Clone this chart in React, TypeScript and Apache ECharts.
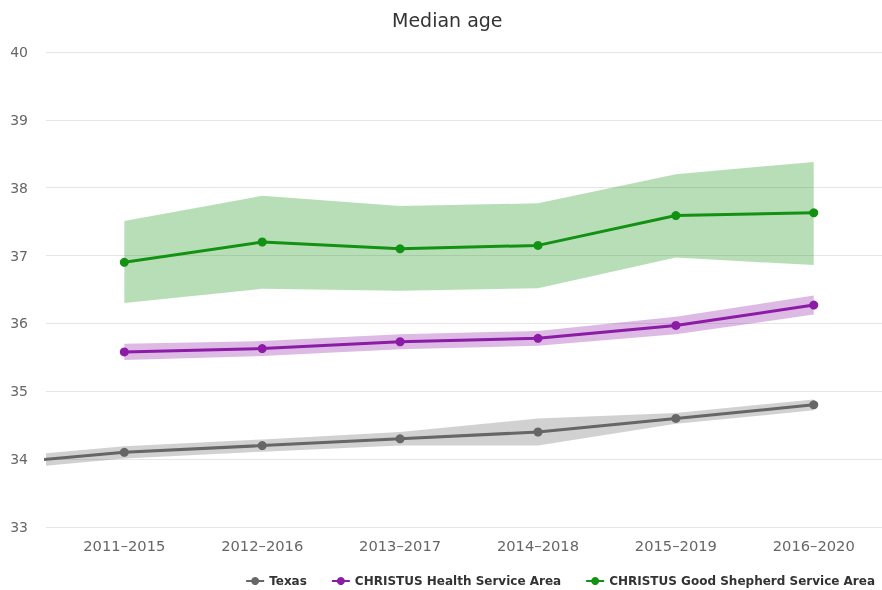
import React, { useEffect, useRef } from "react";
import * as echarts from "echarts";

const categories = ["2011–2015", "2012–2016", "2013–2017", "2014–2018", "2015–2019", "2016–2020"];
const yTicks = [33, 34, 35, 36, 37, 38, 39, 40];

// Texas also has a prior period (2010–2014) that lies just outside the visible range
const texasPrior = { value: 33.92, low: 33.82, high: 34.01 };
const texasValues = [34.1, 34.2, 34.3, 34.4, 34.6, 34.8];
const texasLow = [34.01, 34.11, 34.2, 34.2, 34.52, 34.72];
const texasHigh = [34.19, 34.29, 34.4, 34.6, 34.68, 34.88];

const healthValues = [35.58, 35.63, 35.73, 35.78, 35.97, 36.27];
const healthLow = [35.46, 35.52, 35.62, 35.67, 35.84, 36.13];
const healthHigh = [35.7, 35.74, 35.84, 35.89, 36.1, 36.41];

const shepherdValues = [36.9, 37.2, 37.1, 37.15, 37.59, 37.63];
const shepherdLow = [36.3, 36.51, 36.48, 36.52, 36.97, 36.86];
const shepherdHigh = [37.51, 37.88, 37.73, 37.77, 38.2, 38.38];

const FONT = "DejaVu Sans";

function pts(vals: number[], offset = 0) {
  return vals.map((v, i) => [i + offset, v]);
}

function bandSeries(name: string, low: number[], high: number[], color: string, offset = 0) {
  const data = low.map((l, i) => [i + offset, l, high[i]]);
  return {
    name: name + " band",
    type: "custom",
    clip: true,
    silent: true,
    z: 1,
    encode: { x: 0, y: [1, 2] },
    data,
    renderItem: (params: any, api: any) => {
      if (params.dataIndex !== 0) return null;
      const upper = data.map((d) => api.coord([d[0], d[2]]));
      const lower = data.map((d) => api.coord([d[0], d[1]])).reverse();
      return {
        type: "polygon",
        shape: { points: upper.concat(lower) },
        style: { fill: color, opacity: 0.3 },
      };
    },
  };
}

function mainSeries(name: string, vals: number[], color: string, offset = 0) {
  return {
    name,
    type: "line",
    data: pts(vals, offset),
    symbol: "circle",
    symbolSize: 9,
    itemStyle: { color },
    lineStyle: { color, width: 3 },
    z: 3,
  };
}

export default function App() {
  const ref = useRef<HTMLDivElement>(null);
  useEffect(() => {
    if (!ref.current) return;
    const chart = echarts.init(ref.current, undefined, { renderer: "svg" });
    const texasAllValues = [texasPrior.value, ...texasValues];
    const texasAllLow = [texasPrior.low, ...texasLow];
    const texasAllHigh = [texasPrior.high, ...texasHigh];
    const gray = "#666666";
    const purple = "#8c1ba6";
    const green = "#139113";
    chart.setOption({
      animation: false,
      textStyle: { fontFamily: FONT },
      title: {
        text: "Median age",
        left: 387,
        top: 5,
        textStyle: { fontFamily: FONT, fontSize: 19, fontWeight: "normal", color: "#333333" },
      },
      legend: {
        data: ["Texas", "CHRISTUS Health Service Area", "CHRISTUS Good Shepherd Service Area"],
        right: 2,
        bottom: -2,
        itemWidth: 18,
        itemHeight: 10,
        itemGap: 24,
        textStyle: { fontFamily: FONT, fontSize: 12, fontWeight: "bold", color: "#333333" },
      },
      grid: { left: 46, right: 0, top: 52, bottom: 63 },
      xAxis: {
        type: "value",
        min: -0.568,
        max: 5.495,
        axisLine: { show: false },
        axisTick: { show: false },
        splitLine: { show: false },
        axisLabel: {
          customValues: categories.map((_, i) => i),
          formatter: (v: number) => categories[Math.round(v)] ?? "",
          color: "#666666",
          fontSize: 14.7,
          margin: 11,
          fontFamily: FONT,
        },
      },
      yAxis: {
        type: "value",
        min: yTicks[0],
        max: yTicks[yTicks.length - 1],
        interval: 1,
        axisLine: { show: false },
        axisTick: { show: false },
        axisLabel: { color: "#666666", fontSize: 14, margin: 18, fontFamily: FONT },
        splitLine: { lineStyle: { color: "#e6e6e6", width: 1 } },
      },
      series: [
        bandSeries("Texas", texasAllLow, texasAllHigh, gray, -1),
        bandSeries("Health", healthLow, healthHigh, purple),
        bandSeries("Shepherd", shepherdLow, shepherdHigh, green),
        mainSeries("Texas", texasAllValues, gray, -1),
        mainSeries("CHRISTUS Health Service Area", healthValues, purple),
        mainSeries("CHRISTUS Good Shepherd Service Area", shepherdValues, green),
      ],
    });
    return () => chart.dispose();
  }, []);
  return (
    <div
      ref={ref}
      style={{ position: "fixed", left: 0, top: 0, width: 882, height: 590, overflow: "hidden" }}
    />
  );
}
